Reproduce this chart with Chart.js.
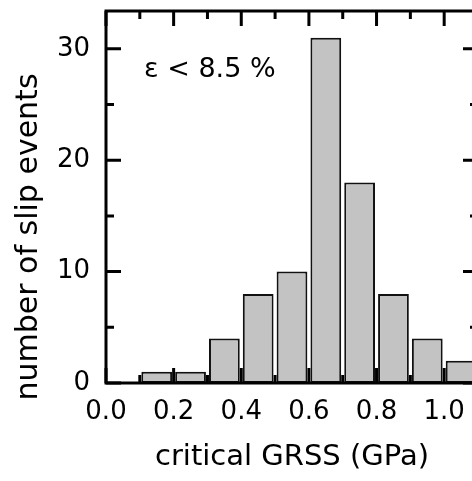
<!DOCTYPE html>
<html>
<head>
<meta charset="utf-8">
<script src="https://cdn.jsdelivr.net/npm/chart.js@4"></script>
<style>
  html, body { margin:0; padding:0; background:#fff; overflow:hidden; }
  #caja { position:relative; width:490px; height:481px; }
</style>
</head>
<body>
<div id="caja"><canvas id="myChart"></canvas></div>
<script>
// bins of 0.1 GPa, centre of each bin
const centros = [0.15, 0.25, 0.35, 0.45, 0.55, 0.65, 0.75, 0.85, 0.95, 1.05]
const cuentas = [1, 1, 4, 8, 10, 31, 18, 8, 4, 2]

const tituloX = 'critical GRSS (GPa)'
const tituloY = 'number of slip events'
const nota = 'ε < 8.5 %'

const xMin = 0, xMax = 1.1
const yMin = 0, yMax = 33.4

const fuente = 'DejaVu Sans'

let puntos = []
for (let i = 0; i < centros.length; i++) {
  puntos.push({x: centros[i], y: cuentas[i]})
}

// frame, inward ticks, titles and the note
const marco = {
  id: 'marco',
  beforeDatasetsDraw(chart) {
    const ctx = chart.ctx
    const sx = chart.scales.x
    const sy = chart.scales.y
    const a = chart.chartArea
    ctx.save()
    ctx.strokeStyle = '#000'
    ctx.lineWidth = 3
    ctx.beginPath()
    for (let i = 0; i <= 11; i++) {
      const px = sx.getPixelForValue(i / 10)
      const largo = (i % 2 == 0) ? 15 : 8
      ctx.moveTo(px, a.top); ctx.lineTo(px, a.top + largo)
      ctx.moveTo(px, a.bottom); ctx.lineTo(px, a.bottom - largo)
    }
    for (let v = 0; v <= 30; v += 5) {
      const py = sy.getPixelForValue(v)
      const largo = (v % 10 == 0) ? 15 : 8
      ctx.moveTo(a.left, py); ctx.lineTo(a.left + largo, py)
      ctx.moveTo(a.right, py); ctx.lineTo(a.right - largo, py)
    }
    ctx.stroke()
    ctx.restore()
  },
  afterDraw(chart) {
    const ctx = chart.ctx
    const a = chart.chartArea
    ctx.save()
    ctx.strokeStyle = '#000'
    ctx.lineWidth = 3
    ctx.strokeRect(a.left, a.top, a.right - a.left, a.bottom - a.top)

    ctx.fillStyle = '#000'
    ctx.font = '29px "' + fuente + '"'
    ctx.textAlign = 'center'
    ctx.textBaseline = 'alphabetic'
    ctx.fillText(tituloX, (a.left + a.right) / 2, a.bottom + 82)

    ctx.font = '30px "' + fuente + '"'
    ctx.translate(37, a.bottom - 146)
    ctx.rotate(-Math.PI / 2)
    ctx.fillText(tituloY, 0, 0)
    ctx.restore()

    ctx.save()
    ctx.fillStyle = '#000'
    ctx.font = '27px "' + fuente + '"'
    ctx.textAlign = 'left'
    ctx.fillText(nota, a.left + 38, a.top + 66)
    ctx.restore()
  }
}

function sinRelleno(s) {
  s.paddingTop = 0
  s.paddingBottom = 0
  s.paddingLeft = 0
  s.paddingRight = 0
}

const grafica = new Chart(document.getElementById('myChart'), {
  type: 'bar',
  data: {
    datasets: [{
      data: puntos,
      backgroundColor: '#c3c3c3',
      borderColor: '#111',
      borderWidth: 2,
      borderSkipped: false,
      categoryPercentage: 1,
      barPercentage: 0.91
    }]
  },
  options: {
    responsive: true,
    maintainAspectRatio: false,
    animation: false,
    layout: { padding: { top: 11, right: 12, left: 0, bottom: 0 } },
    plugins: { legend: { display: false }, tooltip: { enabled: false } },
    scales: {
      x: {
        type: 'linear',
        min: xMin, max: xMax,
        offset: false,
        grid: { display: false, drawTicks: false, offset: false },
        border: { display: false },
        afterFit: (s) => { s.height = 98; sinRelleno(s) },
        ticks: {
          stepSize: 0.2,
          includeBounds: false,
          padding: 14,
          color: '#000',
          font: { family: fuente, size: 26 },
          maxRotation: 0,
          callback: (v) => v.toFixed(1)
        }
      },
      y: {
        min: yMin, max: yMax,
        grid: { display: false, drawTicks: false },
        border: { display: false },
        afterFit: (s) => { s.width = 106; sinRelleno(s) },
        ticks: {
          stepSize: 10,
          includeBounds: false,
          padding: 16,
          color: '#000',
          font: { family: fuente, size: 26 }
        }
      }
    }
  },
  plugins: [marco]
})
</script>
</body>
</html>
